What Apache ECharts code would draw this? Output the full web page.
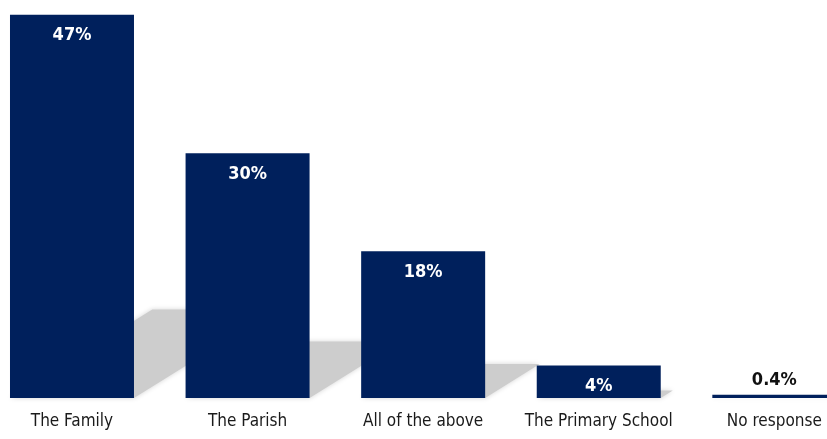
<!DOCTYPE html>
<html>
<head>
<meta charset="utf-8">
<script src="https://cdn.jsdelivr.net/npm/echarts@6/dist/echarts.min.js"></script>
<style>
  html, body { margin: 0; padding: 0; background: #ffffff; }
  #chart { width: 827px; height: 439px; }
</style>
</head>
<body>
<div id="chart"></div>
<script>
// Survey answers and their shares (%)
const categories = ['The Family', 'The Parish', 'All of the above', 'The Primary School', 'No response'];
const shares = [47, 30, 18, 4, 0.4];
const valueLabels = ['47%', '30%', '18%', '4%', '0.4%'];
const positions = [0, 1, 2, 3, 4];

const NAVY = '#00205C';
const FONT = '"Liberation Sans Narrow", "DejaVu Sans Condensed", sans-serif';
const BAR_FRACTION = 0.706;

const chart = echarts.init(document.getElementById('chart'), null, { renderer: 'canvas' });

// Floor shadow cast back-right from each bar, sized from the bar's own height
function renderShadow(params, api) {
  const pos = api.value(0);
  const val = api.value(1);
  const base = api.coord([pos, 0]);
  const top = api.coord([pos, val]);
  const bw = api.size([1, 0])[0] * BAR_FRACTION;
  const h = base[1] - top[1];
  const dy = 0.231 * h;
  const dx = 1.607 * dy;
  const x0 = base[0] - bw / 2;
  const x1 = base[0] + bw / 2;
  const y = base[1];
  return {
    type: 'polygon',
    shape: { points: [[x0, y], [x1, y], [x1 + dx, y - dy], [x0 + dx, y - dy]] },
    style: { fill: '#cdcdcd', shadowBlur: 5, shadowColor: '#d4d4d4' },
    silent: true
  };
}

chart.setOption({
  animation: false,
  backgroundColor: '#ffffff',
  grid: { left: 0, right: 0, top: 0, bottom: 41, containLabel: false },
  xAxis: {
    type: 'value',
    min: -0.41,
    max: 4.30,
    splitLine: { show: false },
    axisLine: { show: false },
    axisTick: { show: false },
    axisLabel: {
      customValues: positions,
      formatter: v => categories[Math.round(v)],
      margin: 15,
      color: '#1a1a1a',
      fontFamily: FONT,
      fontSize: 17
    }
  },
  yAxis: {
    type: 'value',
    min: 0,
    max: 48.8,
    show: false,
    splitLine: { show: false }
  },
  series: [
    {
      type: 'custom',
      renderItem: renderShadow,
      data: shares.map((v, i) => [positions[i], v]),
      z: 1,
      silent: true
    },
    {
      type: 'bar',
      z: 2,
      barWidth: 124,
      data: shares.map((v, i) => ({
        value: [positions[i], v],
        label: i === shares.length - 1
          ? { position: 'top', distance: 5, color: '#111111' }
          : { position: 'insideTop', distance: 12, color: '#ffffff' }
      })),
      itemStyle: { color: NAVY },
      label: {
        show: true,
        fontFamily: FONT,
        fontWeight: 'bold',
        fontSize: 18,
        formatter: p => valueLabels[p.dataIndex]
      }
    }
  ]
});
</script>
</body>
</html>
